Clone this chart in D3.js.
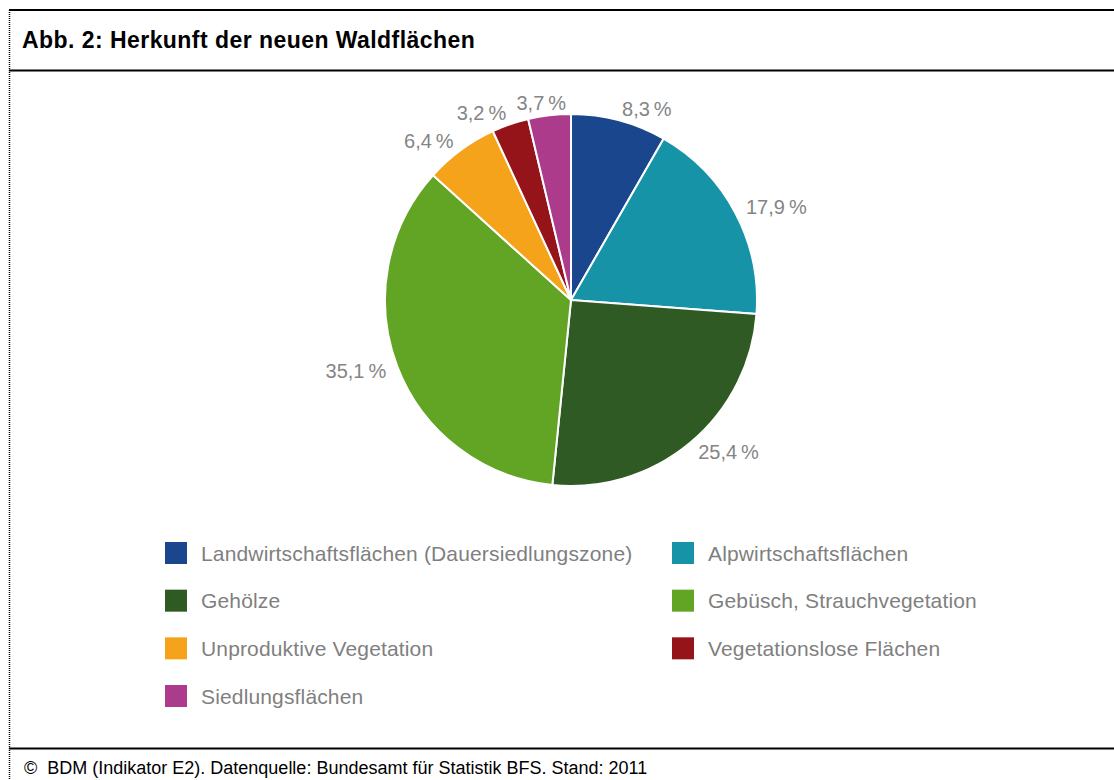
<!DOCTYPE html>
<html>
<head>
<meta charset="utf-8">
<script src="https://cdn.jsdelivr.net/npm/d3@7"></script>
<style>
  body { margin: 0; background: #fff; }
  svg { display: block; font-family: "Liberation Sans", Arial, sans-serif; }
</style>
</head>
<body>
<svg id="chart" width="1114" height="780"></svg>
<script>
const categories = [
  "Landwirtschaftsflächen (Dauersiedlungszone)",
  "Alpwirtschaftsflächen",
  "Gehölze",
  "Gebüsch, Strauchvegetation",
  "Unproduktive Vegetation",
  "Vegetationslose Flächen",
  "Siedlungsflächen"
]
const values = [8.3, 17.9, 25.4, 35.1, 6.4, 3.2, 3.7]
const colors = ["#1a468e", "#1793a8", "#2f5a23", "#62a423", "#f5a31a", "#951419", "#ad3b8b"]
const title = "Abb. 2: Herkunft der neuen Waldflächen"
const footer = "©\u00a0 BDM (Indikator E2). Datenquelle: Bundesamt für Statistik BFS. Stand: 2011"

const width = 1114, height = 780
const cx = 571, cy = 300, radius = 186

const svg = d3.select('#chart')

// frame
svg.append('line')
    .attr('x1', 9).attr('x2', width).attr('y1', 10).attr('y2', 10)
    .attr('stroke', '#000').attr('stroke-width', 2)
svg.append('line')
    .attr('x1', 9).attr('x2', width).attr('y1', 70.5).attr('y2', 70.5)
    .attr('stroke', '#000').attr('stroke-width', 2)
svg.append('line')
    .attr('x1', 9).attr('x2', width).attr('y1', 748.5).attr('y2', 748.5)
    .attr('stroke', '#000').attr('stroke-width', 2)
svg.append('line')
    .attr('x1', 9.5).attr('x2', 9.5).attr('y1', 10).attr('y2', height)
    .attr('stroke', '#000').attr('stroke-width', 1.5)
    .attr('stroke-dasharray', '1,1')

svg.append('text')
    .attr('x', 22).attr('y', 48)
    .attr('font-size', 23).attr('font-weight', 'bold')
    .attr('letter-spacing', 0.45)
    .attr('fill', '#000')
    .text(title)

svg.append('text')
    .attr('x', 24).attr('y', 774)
    .attr('font-size', 18)
    .attr('fill', '#000')
    .text(footer)

// pie
const pie = d3.pie().sort(null).value(d => d)
const arcs = pie(values)
const arc = d3.arc().innerRadius(0).outerRadius(radius)
const labelArc = d3.arc().innerRadius(radius + 12).outerRadius(radius + 12)

const g = svg.append('g').attr('transform', 'translate(' + cx + ',' + cy + ')')

g.selectAll('path')
    .data(arcs)
    .enter()
    .append('path')
    .attr('d', arc)
    .attr('fill', (d, i) => colors[i])
    .attr('stroke', '#fff')
    .attr('stroke-width', 2)

const fmt = v => v.toFixed(1).replace('.', ',') + '\u2009%'
const midAngle = d => (d.startAngle + d.endAngle) / 2

const labels = g.selectAll('text.lbl')
    .data(arcs)
    .enter()
    .append('text')
    .attr('class', 'lbl')
    .attr('font-size', 20)
    .attr('fill', '#858585')
    .attr('dominant-baseline', 'central')
    .attr('text-anchor', d => midAngle(d) < Math.PI ? 'start' : 'end')
    .attr('x', d => labelArc.centroid(d)[0])
    .attr('y', d => labelArc.centroid(d)[1])
    .text(d => fmt(d.data))

// push overlapping labels apart horizontally
let boxes = []
labels.each(function(d) {
    const bb = this.getBBox()
    let box = { x: bb.x, y: bb.y, w: bb.width, h: bb.height }
    boxes.forEach(b => {
        const overlapY = box.y < b.y + b.h - 4 && b.y < box.y + box.h - 4
        const overlapX = box.x < b.x + b.w && b.x < box.x + box.w
        if (overlapX && overlapY) {
            const shift = b.x + b.w + 10 - box.x
            box.x += shift
            d3.select(this).attr('x', +d3.select(this).attr('x') + shift)
        }
    })
    boxes.push(box)
})

// legend
const legendX = [165, 672]
const rowY = d3.scaleLinear().domain([0, 3]).range([553, 696])

const legend = svg.selectAll('g.legend')
    .data(categories)
    .enter()
    .append('g')
    .attr('class', 'legend')
    .attr('transform', (d, i) => 'translate(' + legendX[i % 2] + ',' + rowY(Math.floor(i / 2)) + ')')

legend.append('rect')
    .attr('x', 0).attr('y', -11)
    .attr('width', 22).attr('height', 22)
    .attr('fill', (d, i) => colors[i])

legend.append('text')
    .attr('x', 36).attr('y', 0)
    .attr('dominant-baseline', 'central')
    .attr('font-size', 21)
    .attr('letter-spacing', 0.15)
    .attr('fill', '#7f7f7f')
    .text(d => d)
</script>
</body>
</html>
